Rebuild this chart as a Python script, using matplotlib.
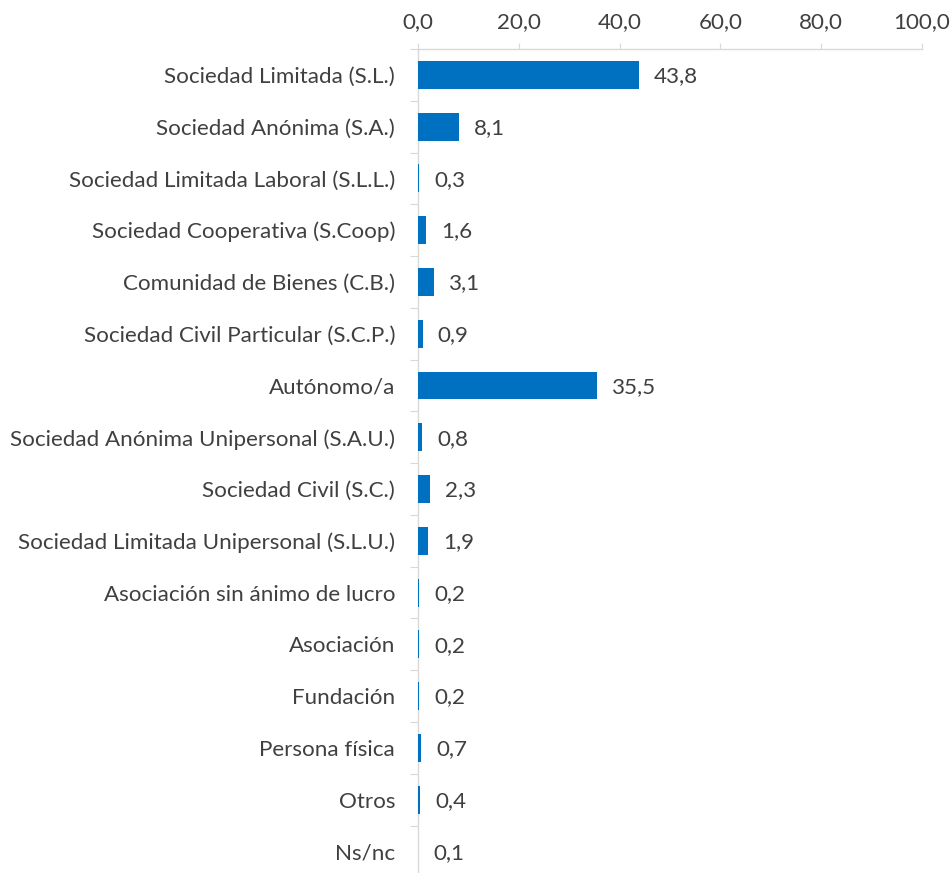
import numpy as np
import matplotlib.pyplot as plt
from matplotlib.ticker import FixedLocator, FuncFormatter

plt.rcParams['font.family'] = ['Lato', 'DejaVu Sans']

categorias = [
    "Sociedad Limitada (S.L.)",
    "Sociedad Anónima (S.A.)",
    "Sociedad Limitada Laboral (S.L.L.)",
    "Sociedad Cooperativa (S.Coop)",
    "Comunidad de Bienes (C.B.)",
    "Sociedad Civil Particular (S.C.P.)",
    "Autónomo/a",
    "Sociedad Anónima Unipersonal (S.A.U.)",
    "Sociedad Civil (S.C.)",
    "Sociedad Limitada Unipersonal (S.L.U.)",
    "Asociación sin ánimo de lucro",
    "Asociación",
    "Fundación",
    "Persona física",
    "Otros",
    "Ns/nc",
]
porcentajes = [43.8, 8.1, 0.3, 1.6, 3.1, 0.9, 35.5, 0.8, 2.3, 1.9,
               0.2, 0.2, 0.2, 0.7, 0.4, 0.1]
ticks_x = [0, 20, 40, 60, 80, 100]

azul = '#0070C0'
gris = '#D9D9D9'
texto = '#404040'
tam = 16.1

fig = plt.figure(figsize=(9.51, 8.73), dpi=100)
ax = fig.add_axes([0.4395, -0.005, 0.53, 0.9489])

y = np.arange(len(categorias))
ax.barh(y, porcentajes, height=0.54, color=azul, zorder=3)

def coma(v, pos=None):
    return f"{v:.1f}".replace('.', ',')

for yi, v in zip(y, porcentajes):
    ax.annotate(coma(v), (v, yi), xytext=(11, -1), textcoords='offset points',
                va='center', ha='left', fontsize=tam, color=texto)

ax.set_xlim(0, 100)
ax.set_ylim(len(categorias) - 0.5, -0.5)

ax.xaxis.tick_top()
ax.set_xticks(ticks_x)
ax.xaxis.set_major_formatter(FuncFormatter(coma))
ax.tick_params(axis='x', length=4.5, width=0.8, color=gris, pad=8,
               labelsize=tam, labelcolor=texto)

ax.set_yticks(y)
ax.set_yticklabels(categorias)
ax.yaxis.set_minor_locator(FixedLocator(np.arange(len(categorias)) - 0.5))
ax.tick_params(axis='y', which='major', length=0, pad=16.5,
               labelsize=tam, labelcolor=texto)
ax.tick_params(axis='y', which='minor', length=5.5, width=0.8, color=gris)

for lado in ['right', 'bottom']:
    ax.spines[lado].set_visible(False)
for lado in ['left', 'top']:
    ax.spines[lado].set_color(gris)
    ax.spines[lado].set_linewidth(1.0)

fig.savefig('out.png', dpi=100)
